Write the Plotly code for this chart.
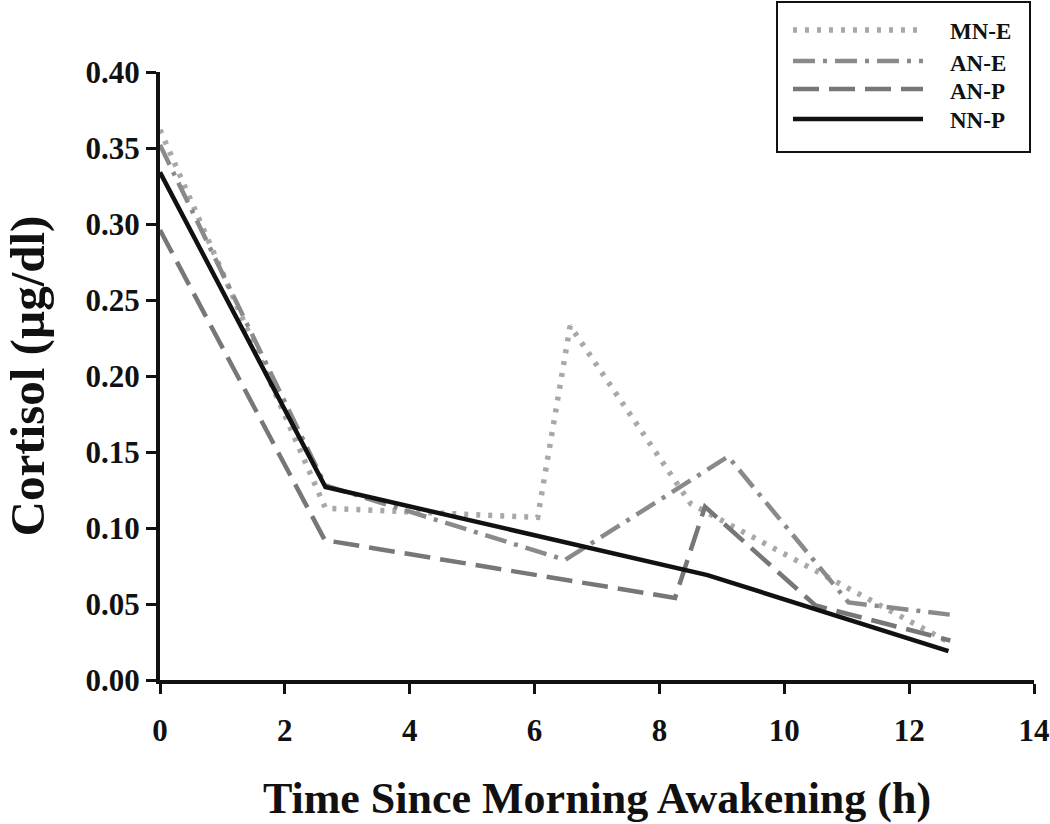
import plotly.graph_objects as go

# ---- data ----
series_names = ["MN-E", "AN-E", "AN-P", "NN-P"]

mn_e_x = [0, 2.65, 6.05, 6.57, 8.5, 12.63]
mn_e_y = [0.362, 0.113, 0.107, 0.233, 0.116, 0.025]

an_e_x = [0, 2.65, 6.49, 9.1, 11.03, 12.65]
an_e_y = [0.352, 0.128, 0.079, 0.147, 0.051, 0.043]

an_p_x = [0, 2.64, 8.25, 8.73, 10.5, 12.66]
an_p_y = [0.296, 0.092, 0.054, 0.114, 0.049, 0.026]

nn_p_x = [0, 2.65, 8.77, 12.63]
nn_p_y = [0.334, 0.127, 0.069, 0.019]

x_ticks = [0, 2, 4, 6, 8, 10, 12, 14]
y_ticks = [0.00, 0.05, 0.10, 0.15, 0.20, 0.25, 0.30, 0.35, 0.40]

colors = ["#a8a8a8", "#8a8a8a", "#777777", "#111111"]
dashes = ["4px,8px", "22px,8px,4px,8px", "26px,10px", "solid"]
widths = [5.5, 4.5, 4.5, 4.5]

xs = [mn_e_x, an_e_x, an_p_x, nn_p_x]
ys = [mn_e_y, an_e_y, an_p_y, nn_p_y]

FONT = "Liberation Serif, Times New Roman, serif"

fig = go.Figure()
for name, x, y, c, d, w in zip(series_names, xs, ys, colors, dashes, widths):
    fig.add_trace(go.Scatter(x=x, y=y, mode="lines", name=name,
                             line=dict(color=c, dash=d, width=w),
                             showlegend=False))

W, H = 1050, 824
ml, mr, mt, mb = 160, 16, 72, 144
pw, ph = W - ml - mr, H - mt - mb

def px2paper_x(px):
    return (px - ml) / pw

def px2paper_y(py):
    return (H - mb - py) / ph

# custom legend (box, line samples, labels)
shapes = [dict(type="rect", xref="paper", yref="paper",
               x0=px2paper_x(777), x1=px2paper_x(1030),
               y0=px2paper_y(152), y1=px2paper_y(2),
               line=dict(color="#111111", width=2), fillcolor="white", layer="above")]
annotations = []
row_y = [30, 61, 89, 119]
for name, c, d, w, ry in zip(series_names, colors, dashes, widths, row_y):
    shapes.append(dict(type="line", xref="paper", yref="paper",
                       x0=px2paper_x(793), x1=px2paper_x(923),
                       y0=px2paper_y(ry), y1=px2paper_y(ry),
                       line=dict(color=c, dash=d, width=w), layer="above"))
    annotations.append(dict(text=f"<b>{name}</b>", xref="paper", yref="paper",
                            x=px2paper_x(948), y=px2paper_y(ry + 2),
                            xanchor="left", yanchor="middle", showarrow=False,
                            font=dict(family=FONT, size=23, color="#111111")))

fig.update_layout(
    width=W, height=H,
    margin=dict(l=ml, r=mr, t=mt, b=mb),
    paper_bgcolor="white", plot_bgcolor="white",
    shapes=shapes, annotations=annotations,
    font=dict(family=FONT, color="#111111"),
    xaxis=dict(range=[0, 14], tickvals=x_ticks, ticktext=[f"<b>{v}</b>" for v in x_ticks],
               showgrid=False, zeroline=False, showline=True, linecolor="#111111",
               linewidth=4, ticks="outside", ticklen=10, tickwidth=3, tickcolor="#111111",
               tickfont=dict(family=FONT, size=31, color="#111111"),
               ticklabelstandoff=10, automargin=False,
               title=dict(text="<b>Time Since Morning Awakening (h)</b>",
                          font=dict(family=FONT, size=44, color="#111111"), standoff=36)),
    yaxis=dict(range=[0, 0.40], tickvals=y_ticks, ticktext=[f"<b>{v:.2f}</b>" for v in y_ticks],
               showgrid=False, zeroline=False, showline=True, linecolor="#111111",
               linewidth=4, ticks="outside", ticklen=10, tickwidth=3, tickcolor="#111111",
               tickfont=dict(family=FONT, size=31, color="#111111"), automargin=False,
               title=dict(text="<b>Cortisol (µg/dl)</b>",
                          font=dict(family=FONT, size=49, color="#111111"), standoff=28)),
)

fig.write_html("out.html", config={"displayModeBar": False},
               post_script="document.body.style.margin='0';")
